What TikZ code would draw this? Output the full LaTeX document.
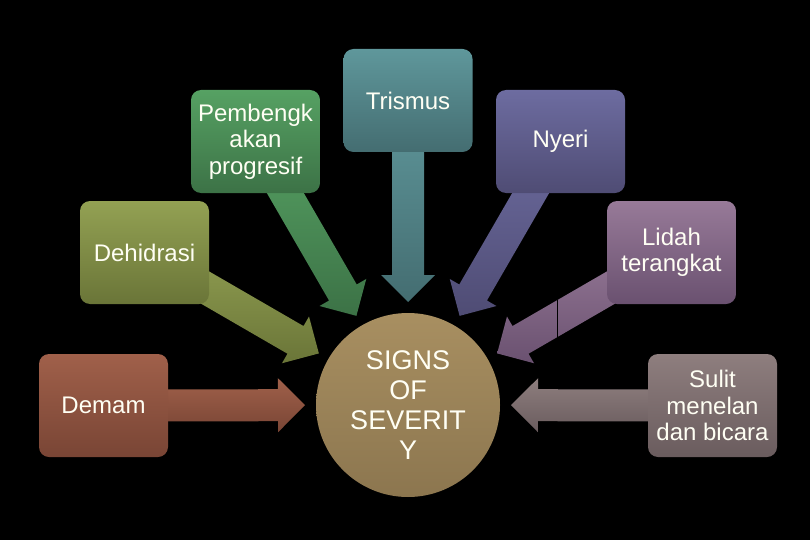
\documentclass[tikz,border=0pt]{standalone}
\usepackage{fontspec}
\setmainfont{Liberation Sans}
\usetikzlibrary{calc}
\pgfdeclarelayer{bg}
\pgfdeclarelayer{arr}
\pgfsetlayers{bg,arr,main}
\definecolor{demT}{HTML}{A0604A}
\definecolor{demB}{HTML}{794535}
\definecolor{dehT}{HTML}{93A153}
\definecolor{dehB}{HTML}{6A7538}
\definecolor{pemT}{HTML}{56A163}
\definecolor{pemB}{HTML}{3C7246}
\definecolor{triT}{HTML}{5F979B}
\definecolor{triB}{HTML}{446D71}
\definecolor{nyeT}{HTML}{6D6CA0}
\definecolor{nyeB}{HTML}{4F4C74}
\definecolor{lidT}{HTML}{977A98}
\definecolor{lidB}{HTML}{6A5170}
\definecolor{sulT}{HTML}{8E7E7E}
\definecolor{sulB}{HTML}{6A5C5E}
\definecolor{cirT}{HTML}{A88F61}
\definecolor{cirB}{HTML}{8C764F}
\definecolor{txt}{HTML}{FFFFF4}
\tikzset{
  sbox/.style={rounded corners=10pt, minimum width=129pt, minimum height=103pt,
    inner sep=2pt, align=center, text=txt, font=\fontsize{24}{26.5}\selectfont},
  hub/.style={circle, minimum size=184pt, inner sep=0pt, align=center, text=txt,
    font=\fontsize{27}{30}\selectfont, top color=cirT, bottom color=cirB}
}
% #1 start node, #2 tip coordinate, #3 top colour, #4 bottom colour
\newcommand\blockarr[4]{%
  \coordinate (#2h) at ($(#2)!27pt!(#1.center)$);
  \shade[top color=#3, bottom color=#4]
    ($(#1.center)!16pt!90:(#2)$) -- ($(#2h)!16pt!90:(#2)$) -- ($(#2h)!27pt!90:(#2)$)
    -- (#2) -- ($(#2h)!27pt!-90:(#2)$) -- ($(#2h)!16pt!-90:(#2)$)
    -- ($(#1.center)!16pt!-90:(#2)$) -- cycle;}
\begin{document}
\begin{tikzpicture}[x=1pt,y=-1pt]
\begin{pgfonlayer}{bg}
  \fill[black] (0,0) rectangle (810,540);
\end{pgfonlayer}
\useasboundingbox (0,0) rectangle (810,540);

\node[hub] (c) at (408,405) {SIGNS\\OF\\SEVERIT\\Y};

\node[sbox, top color=demT, bottom color=demB] (demam) at (103.5,405.5) {Demam};
\node[sbox, top color=dehT, bottom color=dehB] (dehid) at (144.5,252.5) {Dehidrasi};
\node[sbox, top color=pemT, bottom color=pemB] (pemb) at (255.5,141.5) {Pembengk\\akan\\progresif};
\node[sbox, top color=triT, bottom color=triB] (tris) at (408,100.5) {Trismus};
\node[sbox, top color=nyeT, bottom color=nyeB] (nyeri) at (560.5,141.5) {Nyeri};
\node[sbox, top color=lidT, bottom color=lidB] (lidah) at (671.5,252.5) {Lidah\\terangkat};
\node[sbox, top color=sulT, bottom color=sulB] (sulit) at (712.5,405.5) {Sulit\\menelan\\dan bicara};

\coordinate (tdem) at ($(c.center)!103pt!(demam.center)$);
\coordinate (tdeh) at ($(c.center)!103pt!(dehid.center)$);
\coordinate (tpem) at ($(c.center)!103pt!(pemb.center)$);
\coordinate (ttri) at ($(c.center)!103pt!(tris.center)$);
\coordinate (tnye) at ($(c.center)!103pt!(nyeri.center)$);
\coordinate (tlid) at ($(c.center)!103pt!(lidah.center)$);
\coordinate (tsul) at ($(c.center)!103pt!(sulit.center)$);

\begin{pgfonlayer}{arr}
  \blockarr{demam}{tdem}{demT}{demB}
  \blockarr{dehid}{tdeh}{dehT}{dehB}
  \blockarr{pemb}{tpem}{pemT}{pemB}
  \blockarr{tris}{ttri}{triT}{triB}
  \blockarr{nyeri}{tnye}{nyeT}{nyeB}
  \blockarr{lidah}{tlid}{lidT}{lidB}
  \blockarr{sulit}{tsul}{sulT}{sulB}
  \draw[black, line width=1pt] (557,300) -- (557,338);
\end{pgfonlayer}
\end{tikzpicture}
\end{document}
